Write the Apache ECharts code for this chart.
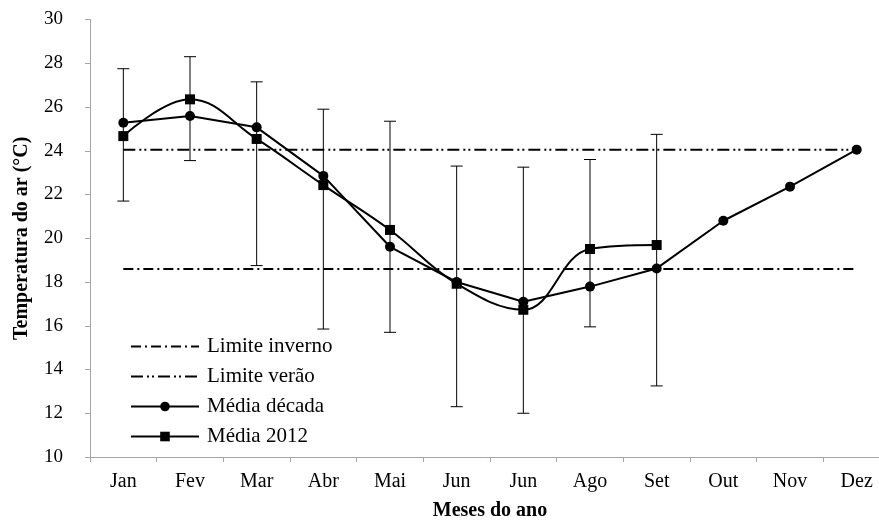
<!DOCTYPE html>
<html>
<head>
<meta charset="utf-8">
<script src="https://cdn.jsdelivr.net/npm/echarts@6/dist/echarts.min.js"></script>
<style>
  html, body { margin: 0; padding: 0; background: #fff; }
  #chart { width: 879px; height: 521px; }
</style>
</head>
<body>
<div id="chart"></div>
<script>
// Monthly air temperature: decade mean vs 2012 mean, with seasonal limits
const months = ['Jan', 'Fev', 'Mar', 'Abr', 'Mai', 'Jun', 'Jun', 'Ago', 'Set', 'Out', 'Nov', 'Dez'];
const mediaDecada = [25.28, 25.59, 25.07, 22.85, 19.61, 18.0, 17.1, 17.79, 18.62, 20.8, 22.36, 24.05];
const media2012 = [24.67, 26.35, 24.54, 22.43, 20.38, 17.92, 16.73, 19.51, 19.69];
const limiteInverno = 18.6;
const limiteVerao = 24.05;
// Error bar extents (lower, upper) for Jan..Set
const errLower = [21.7, 23.55, 18.75, 15.85, 15.7, 12.3, 12.0, 15.95, 13.25];
const errUpper = [27.75, 28.3, 27.15, 25.9, 25.35, 23.3, 23.25, 23.6, 24.75];
const yTicks = { min: 10, max: 30, step: 2 };

const FONT = "'Liberation Serif', 'Times New Roman', serif";

const errData = errLower.map((lo, i) => [i, lo, errUpper[i]]);

const chart = echarts.init(document.getElementById('chart'), null, { renderer: 'canvas' });

// limit lines carry no marker, so their legend symbol is hidden
const hiddenMarker = { opacity: 0 };

chart.setOption({
  animation: false,
  backgroundColor: '#ffffff',
  textStyle: { fontFamily: FONT, color: '#000' },
  grid: { left: 90, right: -11, top: 19.5, bottom: 64, containLabel: false, outerBoundsMode: 'none' },
  legend: {
    orient: 'vertical',
    left: 125,
    top: 331,
    itemWidth: 68,
    itemHeight: 12,
    itemGap: 9,
    textStyle: { fontFamily: FONT, fontSize: 21, color: '#000', padding: [0, 0, 0, 3] },
    data: [
      { name: 'Limite inverno', itemStyle: hiddenMarker },
      { name: 'Limite verão', itemStyle: hiddenMarker },
      { name: 'Média década' },
      { name: 'Média 2012' }
    ]
  },
  xAxis: {
    type: 'category',
    data: months,
    boundaryGap: true,
    name: 'Meses do ano',
    nameLocation: 'middle',
    nameGap: 44,
    nameTextStyle: { fontFamily: FONT, fontSize: 20, fontWeight: 'bold', color: '#000' },
    axisLine: { lineStyle: { color: '#a6a6a6', width: 1 } },
    axisTick: { show: true, interval: 0, length: 5, lineStyle: { color: '#a6a6a6' } },
    axisLabel: { interval: 0, fontFamily: FONT, fontSize: 20, color: '#000', margin: 15 },
    splitLine: { show: false }
  },
  yAxis: {
    type: 'value',
    min: yTicks.min,
    max: yTicks.max,
    interval: yTicks.step,
    name: 'Temperatura do ar (°C)',
    nameLocation: 'middle',
    nameGap: 58,
    nameTextStyle: { fontFamily: FONT, fontSize: 20, fontWeight: 'bold', color: '#000' },
    axisLine: { show: true, lineStyle: { color: '#a6a6a6', width: 1 } },
    axisTick: { show: true, length: 5, lineStyle: { color: '#a6a6a6' } },
    axisLabel: { fontFamily: FONT, fontSize: 19, color: '#000', margin: 27 },
    splitLine: { show: false }
  },
  series: [
    {
      name: 'Limite inverno',
      type: 'line',
      data: months.map(() => limiteInverno),
      symbol: 'none',
      lineStyle: { color: '#000', width: 2, type: [10, 4, 2, 4] },
      itemStyle: { color: '#000' },
      z: 1
    },
    {
      name: 'Limite verão',
      type: 'line',
      data: months.map(() => limiteVerao),
      symbol: 'none',
      lineStyle: { color: '#000', width: 2, type: [12, 4, 2, 3, 2, 4] },
      itemStyle: { color: '#000' },
      z: 1
    },
    {
      name: 'Erro',
      type: 'custom',
      data: errData,
      z: 2,
      renderItem: function (params, api) {
        const x = api.value(0);
        const top = api.coord([x, api.value(2)]);
        const bot = api.coord([x, api.value(1)]);
        const half = 6;
        const style = { stroke: '#000', lineWidth: 1, fill: null };
        return {
          type: 'group',
          children: [
            { type: 'line', shape: { x1: top[0], y1: top[1], x2: bot[0], y2: bot[1] }, style: style },
            { type: 'line', shape: { x1: top[0] - half, y1: top[1], x2: top[0] + half, y2: top[1] }, style: style },
            { type: 'line', shape: { x1: bot[0] - half, y1: bot[1], x2: bot[0] + half, y2: bot[1] }, style: style }
          ]
        };
      }
    },
    {
      name: 'Média década',
      type: 'line',
      data: mediaDecada,
      symbol: 'circle',
      symbolSize: 10,
      lineStyle: { color: '#000', width: 2 },
      itemStyle: { color: '#000' },
      z: 3
    },
    {
      name: 'Média 2012',
      type: 'line',
      data: media2012,
      smooth: 0.4,
      symbol: 'rect',
      symbolSize: 10,
      lineStyle: { color: '#000', width: 2 },
      itemStyle: { color: '#000' },
      z: 4
    }
  ]
});
</script>
</body>
</html>
